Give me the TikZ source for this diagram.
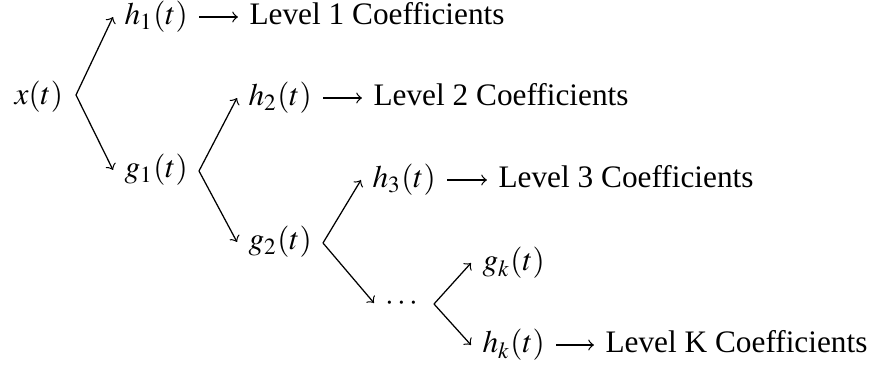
\documentclass[tikz,border=0pt]{standalone}
\usepackage{mathptmx}
\usepackage[no-math]{fontspec}
\setmainfont{Liberation Serif}
\begin{document}
\begin{tikzpicture}[x=0.3195pt,y=-0.3195pt,
  lbl/.style={anchor=west,inner xsep=3.5pt,inner ysep=0pt,text height=7.5pt,text depth=2.5pt,font=\fontsize{10}{12}\selectfont},
  br/.style={->,line width=0.4pt}]
\useasboundingbox (0,0) rectangle (872,367);
\node[lbl] (x) at (3,97) {$x(t)$};
\coordinate (v1) at (76,95);
\node[lbl] (h1) at (113,17) {$h_1(t)$};
\node[lbl] (g1) at (113,170) {$g_1(t)$};
\node[lbl] (L1) at (238,17) {Level 1 Coefficients};
\coordinate (v2) at (199,171);
\node[lbl] (h2) at (237,98) {$h_2(t)$};
\node[lbl] (g2) at (237,242) {$g_2(t)$};
\node[lbl] (L2) at (362,98) {Level 2 Coefficients};
\coordinate (v3) at (323,243);
\node[lbl] (h3) at (361,180) {$h_3(t)$};
\node[lbl] (L3) at (487,180) {Level 3 Coefficients};
\node[lbl] (d) at (374,303) {$\cdots$};
\coordinate (v4) at (434,304);
\node[lbl] (gk) at (471,263) {$g_k(t)$};
\node[lbl] (hk) at (471,345) {$h_k(t)$};
\node[lbl] (LK) at (594,345) {Level K Coefficients};
\draw[br] (v1) -- (h1.west);
\draw[br] (v1) -- (g1.west);
\draw[br] (v2) -- (h2.west);
\draw[br] (v2) -- (g2.west);
\draw[br] (v3) -- (h3.west);
\draw[br] (v3) -- (d.west);
\draw[br] (v4) -- (gk.west);
\draw[br] (v4) -- (hk.west);
\draw[br] (h1.east) -- (L1.west);
\draw[br] (h2.east) -- (L2.west);
\draw[br] (h3.east) -- (L3.west);
\draw[br] (hk.east) -- (LK.west);
\end{tikzpicture}
\end{document}
